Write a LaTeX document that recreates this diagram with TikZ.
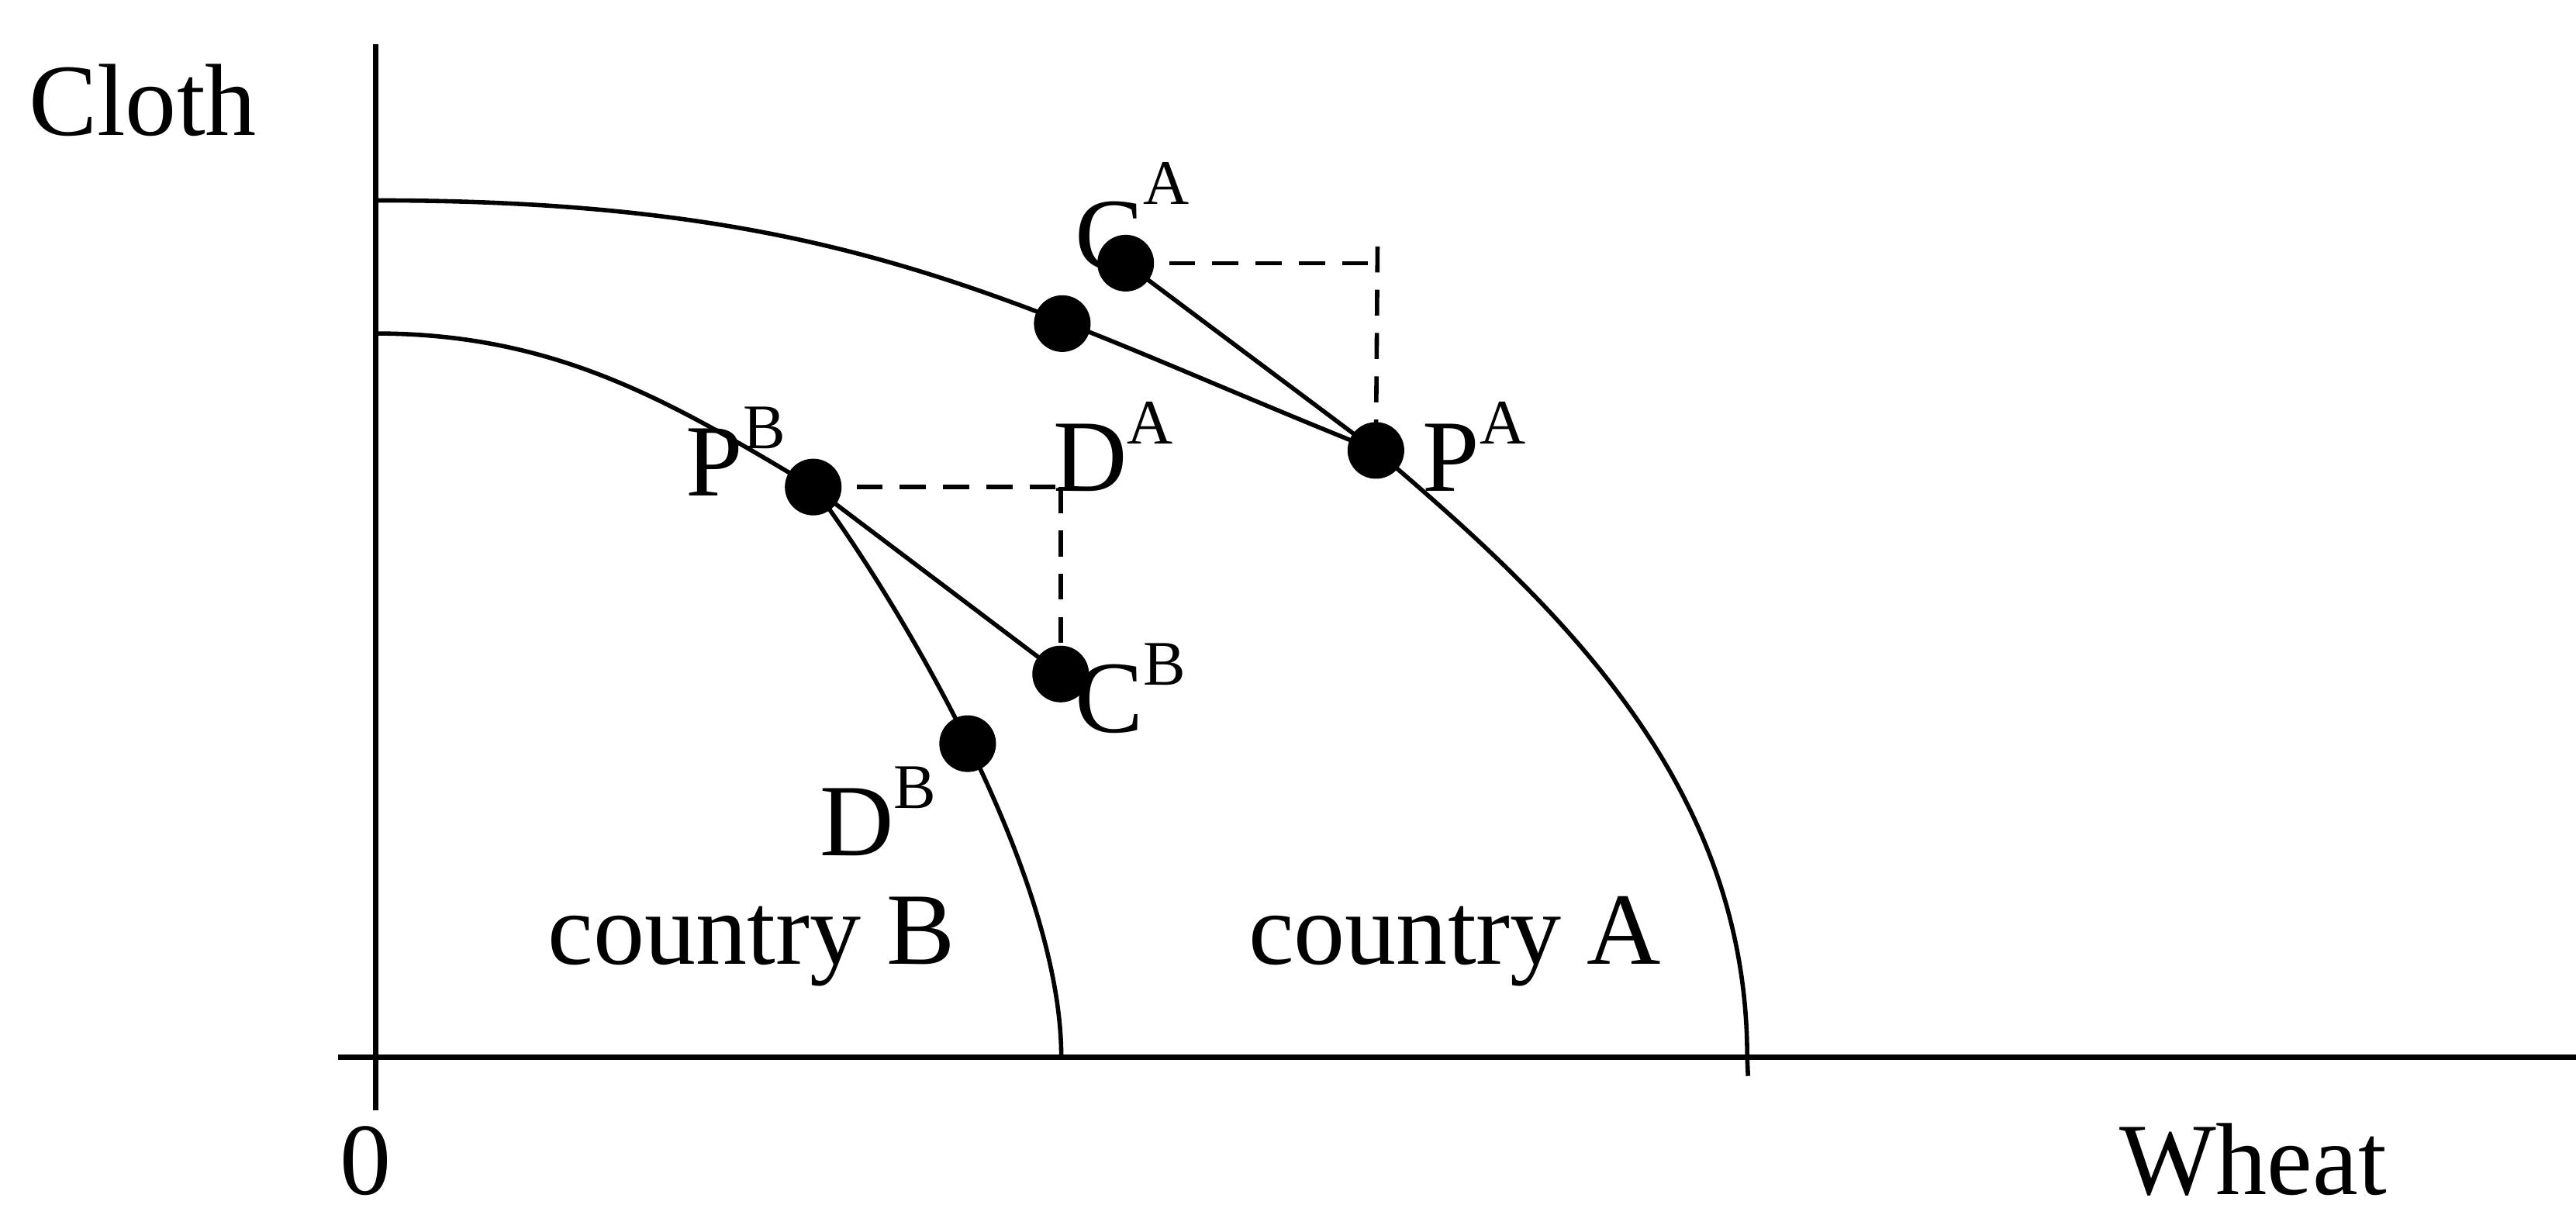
\documentclass[tikz,border=0pt]{standalone}
\usepackage{fontspec}
\setmainfont{Liberation Serif}
\pgfdeclarelayer{bg}
\pgfsetlayers{bg,main}
\newcommand{\supr}[3]{#1\raisebox{#3}{\fontsize{22}{22}\selectfont #2}}
\begin{document}
\begin{tikzpicture}[x=0.02cm,y=-0.02cm,
  lbl/.style={anchor=base west, inner sep=0pt, outer sep=0pt, font=\fontsize{35.5}{40}\selectfont},
  dot/.style={circle, fill=black, draw=none, minimum size=0.69cm, inner sep=0pt},
  axisline/.style={line width=1.9pt},
  curve/.style={line width=1.5pt},
  segline/.style={line width=1.5pt},
  guide/.style={line width=1.5pt, dash pattern=on 9pt off 6pt}]
\useasboundingbox (0,0) rectangle (1568,739.6);
% text labels
\node[lbl] (cloth) at (17.5,82.6) {Cloth};
\node[lbl] (zero) at (207,727) {0};
\node[lbl] (wheat) at (1290,727) {Wheat};
\node[lbl] (cntB) at (333.5,587) {country B};
\node[lbl] (cntA) at (760,587) {country A};
\node[lbl] (labCA) at (654.5,164) {\supr{C}{A}{22.5pt}};
\node[lbl] (labDA) at (641,299) {\supr{D}{A}{16.5pt}};
\node[lbl] (labPA) at (866,299) {\supr{P}{A}{16.5pt}};
\node[lbl] (labPB) at (417.5,302) {\supr{P}{B}{16.5pt}};
\node[lbl] (labCB) at (654.5,446) {\supr{C}{B}{16.5pt}};
\node[lbl] (labDB) at (499,521) {\supr{D}{B}{16.5pt}};
% dots
\node[dot] (CA) at (685.2,160.2) {};
\node[dot] (XA) at (646.6,197) {};
\node[dot] (PA) at (837.5,274.2) {};
\node[dot] (PB) at (495,296.5) {};
\node[dot] (CB) at (645.6,410.3) {};
\node[dot] (DB) at (589,452.7) {};
% helper coordinates
\coordinate (ytop) at (228.5,27);
\coordinate (ybot) at (228.5,676);
\coordinate (xleft) at (206,643.5);
\coordinate (xright) at (1568,643.5);
\coordinate (Atop) at (228.5,122);
\coordinate (Aend) at (1063.5,643.5);
\coordinate (Atail) at (1064,655);
\coordinate (Btop) at (228.5,203);
\coordinate (Bend) at (646,643.5);
\coordinate (cornerA) at (838.5,160.2);
\coordinate (cornerAtop) at (838.5,150);
\coordinate (cornerB) at (645.6,296.5);
\begin{pgfonlayer}{bg}
\draw[axisline] (ytop) -- (ybot);
\draw[axisline] (xleft) -- (xright);
\draw[curve] (Atop) .. controls (520,122) and (617,186) .. (PA.center)
  .. controls (943.7,364.7) and (1063.5,474) .. (Aend) -- (Atail);
\draw[curve] (Btop) .. controls (339,203) and (409.3,245.1) .. (PB.center)
  .. controls (543,360.5) and (646,529) .. (Bend);
\draw[segline] (CA.center) -- (PA.center);
\draw[segline] (PB.center) -- (CB.center);
\draw[guide] (CA.center) -- (cornerA);
\draw[guide] (cornerAtop) -- (PA.center);
\draw[guide] (PB.center) -- (cornerB);
\draw[guide] (cornerB) -- (CB.center);
\end{pgfonlayer}
\end{tikzpicture}
\end{document}
